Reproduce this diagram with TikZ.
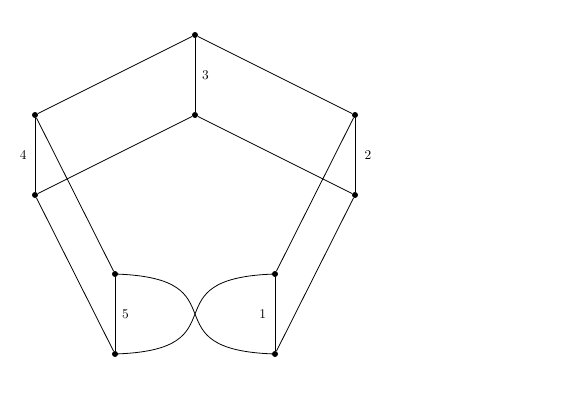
\documentclass[tikz,border=0pt]{standalone}
\begin{document}
\begin{tikzpicture}[x=0.75pt,y=-0.75pt,
  dot/.style={circle,fill=black,inner sep=0pt,minimum size=4.5pt},
  edge/.style={line width=0.6pt},
  lbl/.style={inner sep=0pt,font=\normalsize}]
\useasboundingbox (0,0) rectangle (578,404);
\node[dot] (t1) at (195,35) {};
\node[dot] (t2) at (195,115) {};
\node[dot] (l1) at (35,115) {};
\node[dot] (l2) at (35,195) {};
\node[dot] (r1) at (355,115) {};
\node[dot] (r2) at (355,195) {};
\node[dot] (bl1) at (115,274) {};
\node[dot] (bl2) at (115,354) {};
\node[dot] (br1) at (275,274) {};
\node[dot] (br2) at (275,354) {};
\coordinate (c1) at (245,278);
\coordinate (c2) at (145,350);
\coordinate (c3) at (145,278);
\coordinate (c4) at (245,350);
\draw[edge] (t1) -- (l1);
\draw[edge] (t1) -- (r1);
\draw[edge] (l2) -- (bl2);
\draw[edge] (r2) -- (br2);
\draw[edge] (t2) -- (l2);
\draw[edge] (t2) -- (r2);
\draw[edge] (l1) -- (bl1);
\draw[edge] (r1) -- (br1);
\draw[edge] (t1) -- node[lbl,right=5pt] {3} (t2);
\draw[edge] (l1) -- node[lbl,left=6pt] {4} (l2);
\draw[edge] (r1) -- node[lbl,right=7pt] {2} (r2);
\draw[edge] (bl1) -- node[lbl,right=5pt] {5} (bl2);
\draw[edge] (br1) -- node[lbl,left=6.5pt] {1} (br2);
\draw[edge] (bl1.center) .. controls (c1) and (c2) .. (br2.center);
\draw[edge] (br1.center) .. controls (c3) and (c4) .. (bl2.center);
\end{tikzpicture}
\end{document}
